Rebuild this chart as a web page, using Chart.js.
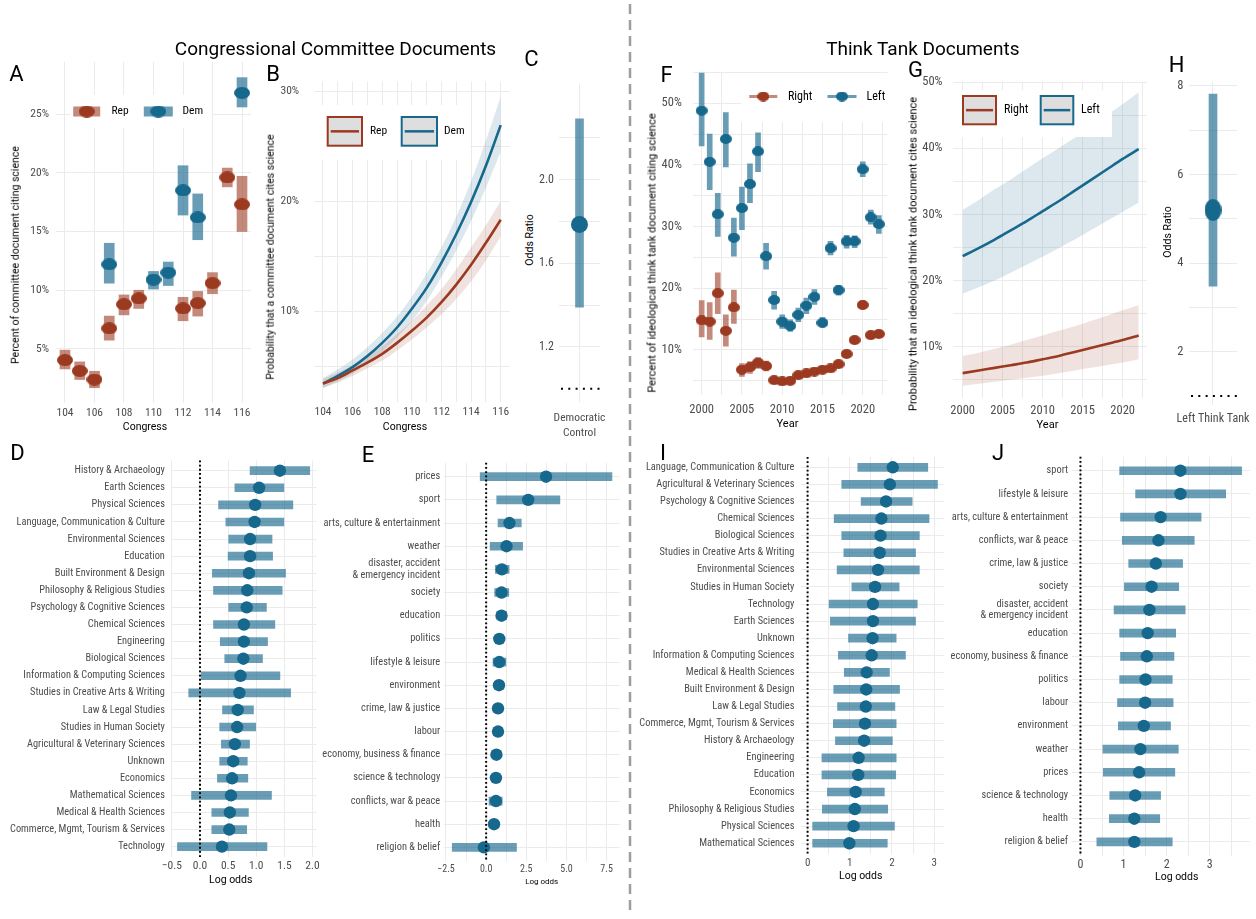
<!DOCTYPE html>
<html>
<head>
<meta charset="utf-8">
<title>Science citations in committee and think tank documents</title>
<script src="https://cdn.jsdelivr.net/npm/chart.js@4.4.1/dist/chart.umd.min.js"></script>
<style>
  body { margin: 0; background: #fff; }
  #fig { position: relative; width: 1256px; height: 919px; overflow: hidden; font-family: Roboto, sans-serif; }
  #fig canvas { position: absolute; }
  #fig svg { position: absolute; left: 0; top: 0; }
  .t { position: absolute; white-space: nowrap; line-height: 1; color: #000; }
</style>
</head>
<body>
<div id="fig">
  <svg width="1256" height="919"><line x1="630" y1="4" x2="630" y2="916" stroke="#9e9e9e" stroke-width="2.5" stroke-dasharray="10 6"/></svg>
</div>
<script>
// ---- data: congressional committees ----
const congress = [104, 105, 106, 107, 108, 109, 110, 111, 112, 113, 114, 115, 116];
const repPct = [4.05, 3.13, 2.4, 6.75, 8.8, 9.3, null, null, 8.45, 8.9, 10.6, 19.6, 17.3];
const repLo  = [3.3, 2.4, 1.7, 5.75, 7.9, 8.45, null, null, 7.4, 7.8, 9.7, 18.8, 15.0];
const repHi  = [4.9, 3.9, 3.1, 7.8, 9.6, 10.0, null, null, 9.4, 9.9, 11.5, 20.4, 19.7];
const demPct = [null, null, null, 12.2, null, null, 10.9, 11.5, 18.5, 16.2, null, null, 26.8];
const demLo  = [null, null, null, 10.6, null, null, 10.1, 10.4, 16.4, 14.3, null, null, 25.6];
const demHi  = [null, null, null, 14.0, null, null, 11.6, 12.4, 20.6, 18.2, null, null, 28.1];

const bRep   = [3.4, 3.9, 4.6, 5.3, 6.1, 7.1, 8.2, 9.4, 10.8, 12.4, 14.2, 16.2, 18.3];
const bRepLo = [3.0, 3.5, 4.1, 4.8, 5.5, 6.4, 7.4, 8.5, 9.7, 11.1, 12.7, 14.6, 16.8];
const bRepHi = [3.8, 4.4, 5.1, 5.9, 6.8, 7.9, 9.1, 10.5, 12.0, 13.8, 15.8, 17.8, 20.0];
const bDem   = [3.4, 4.1, 4.9, 5.9, 7.1, 8.5, 10.2, 12.1, 14.4, 17.0, 19.9, 23.2, 26.9];
const bDemLo = [3.0, 3.6, 4.3, 5.2, 6.3, 7.6, 9.1, 10.9, 13.1, 15.5, 18.2, 21.2, 24.5];
const bDemHi = [3.9, 4.7, 5.6, 6.7, 8.0, 9.5, 11.3, 13.4, 15.8, 18.6, 21.8, 25.5, 29.5];

const cLabel = ['Democratic', 'Control'];
const cOdds = [1.785], cLo = [1.39], cHi = [2.29];

// ---- data: think tanks ----
const years = [2000, 2001, 2002, 2003, 2004, 2005, 2006, 2007, 2008, 2009, 2010, 2011,
               2012, 2013, 2014, 2015, 2016, 2017, 2018, 2019, 2020, 2021, 2022];
const leftPct = [48.8, 40.5, 32.0, 44.2, 28.2, 33.0, 36.9, 42.2, 25.2, 18.1, 14.6, 13.9,
                 15.7, 17.2, 18.6, 14.4, 26.5, 19.7, 27.6, 27.6, 39.3, 31.5, 30.4];
const leftLo  = [43.1, 36.0, 28.4, 39.7, 25.2, 29.5, 33.9, 38.9, 23.1, 16.6, 13.5, 13.0,
                 14.6, 15.9, 17.4, 13.7, 25.4, 18.9, 26.5, 26.6, 38.1, 30.4, 28.9];
const leftHi  = [54.9, 45.0, 35.4, 48.5, 31.4, 36.4, 40.2, 45.2, 27.3, 19.5, 15.7, 14.9,
                 16.8, 18.4, 19.8, 15.3, 27.6, 20.5, 28.6, 28.5, 40.5, 32.7, 31.8];
const rightPct = [14.8, 14.6, 19.2, 13.1, 16.9, 6.8, 7.2, 7.95, 7.4, 5.1, 4.9, 5.0,
                  5.9, 6.2, 6.5, 6.8, 7.0, 7.7, 9.35, 11.6, 17.3, 12.4, 12.6];
const rightLo  = [12.1, 11.7, 15.9, 10.6, 14.3, 5.7, 6.2, 7.0, 6.6, 4.6, 4.4, 4.5,
                  5.4, 5.7, 6.0, 6.3, 6.5, 7.2, 8.8, 11.0, 16.6, 11.8, 12.0];
const rightHi  = [18.0, 17.7, 22.5, 15.7, 19.7, 7.8, 8.1, 8.8, 8.2, 5.6, 5.4, 5.5,
                  6.4, 6.7, 7.0, 7.3, 7.5, 8.2, 9.9, 12.2, 18.0, 13.0, 13.2];

const gYears = [2000, 2002, 2004, 2006, 2008, 2010, 2012, 2014, 2016, 2018, 2020, 2022];
const gLeft    = [23.7, 24.9, 26.2, 27.6, 29.0, 30.5, 32.0, 33.6, 35.2, 36.8, 38.4, 39.9];
const gLeftLo  = [18.0, 19.0, 20.0, 21.2, 22.4, 23.6, 24.9, 26.2, 27.6, 29.0, 30.4, 31.8];
const gLeftHi  = [30.7, 32.2, 33.8, 35.3, 36.9, 38.5, 40.0, 41.6, 43.3, 45.0, 46.7, 48.5];
const gRight   = [6.0, 6.4, 6.8, 7.2, 7.6, 8.1, 8.6, 9.2, 9.8, 10.4, 11.0, 11.7];
const gRightLo = [4.1, 4.4, 4.7, 5.0, 5.3, 5.6, 6.0, 6.4, 6.8, 7.2, 7.6, 8.1];
const gRightHi = [8.6, 9.1, 9.7, 10.3, 11.0, 11.7, 12.4, 13.1, 13.9, 14.7, 15.5, 16.3];

const hLabel = 'Left Think Tank';
const hOdds = [5.2], hLo = [3.48], hHi = [7.82];

// ---- data: log odds by field / topic ----
const dFields = ['History & Archaeology', 'Earth Sciences', 'Physical Sciences', 'Language, Communication & Culture',
  'Environmental Sciences', 'Education', 'Built Environment & Design', 'Philosophy & Religious Studies',
  'Psychology & Cognitive Sciences', 'Chemical Sciences', 'Engineering', 'Biological Sciences',
  'Information & Computing Sciences', 'Studies in Creative Arts & Writing', 'Law & Legal Studies',
  'Studies in Human Society', 'Agricultural & Veterinary Sciences', 'Unknown', 'Economics',
  'Mathematical Sciences', 'Medical & Health Sciences', 'Commerce, Mgmt, Tourism & Services', 'Technology'];
const dEst = [1.42, 1.05, 0.98, 0.97, 0.89, 0.89, 0.87, 0.84, 0.83, 0.78, 0.78, 0.77, 0.72, 0.70, 0.67, 0.66, 0.62, 0.59, 0.57, 0.55, 0.53, 0.52, 0.39];
const dLo  = [0.89, 0.62, 0.33, 0.46, 0.51, 0.50, 0.22, 0.24, 0.51, 0.24, 0.36, 0.44, 0.02, -0.20, 0.40, 0.35, 0.38, 0.35, 0.31, -0.15, 0.21, 0.21, -0.40];
const dHi  = [1.95, 1.49, 1.65, 1.49, 1.28, 1.29, 1.52, 1.46, 1.18, 1.33, 1.20, 1.11, 1.42, 1.61, 0.95, 0.99, 0.88, 0.84, 0.85, 1.27, 0.86, 0.83, 1.19];

const eTopics = ['prices', 'sport', 'arts, culture & entertainment', 'weather',
  ['disaster, accident', '& emergency incident'], 'society', 'education', 'politics', 'lifestyle & leisure',
  'environment', 'crime, law & justice', 'labour', 'economy, business & finance', 'science & technology',
  'conflicts, war & peace', 'health', 'religion & belief'];
const eEst = [3.73, 2.62, 1.45, 1.27, 0.98, 0.96, 0.96, 0.82, 0.82, 0.80, 0.74, 0.74, 0.64, 0.61, 0.61, 0.49, -0.14];
const eLo  = [-0.37, 0.66, 0.74, 0.25, 0.57, 0.53, 0.68, 0.57, 0.43, 0.51, 0.49, 0.45, 0.39, 0.37, 0.18, 0.25, -2.11];
const eHi  = [7.83, 4.59, 2.19, 2.27, 1.43, 1.41, 1.27, 1.09, 1.23, 1.09, 1.00, 1.00, 0.88, 0.86, 1.00, 0.74, 1.89];

const iFields = ['Language, Communication & Culture', 'Agricultural & Veterinary Sciences', 'Psychology & Cognitive Sciences',
  'Chemical Sciences', 'Biological Sciences', 'Studies in Creative Arts & Writing', 'Environmental Sciences',
  'Studies in Human Society', 'Technology', 'Earth Sciences', 'Unknown', 'Information & Computing Sciences',
  'Medical & Health Sciences', 'Built Environment & Design', 'Law & Legal Studies', 'Commerce, Mgmt, Tourism & Services',
  'History & Archaeology', 'Engineering', 'Education', 'Economics', 'Philosophy & Religious Studies',
  'Physical Sciences', 'Mathematical Sciences'];
const iEst = [2.02, 1.95, 1.86, 1.75, 1.73, 1.71, 1.67, 1.60, 1.55, 1.55, 1.54, 1.52, 1.40, 1.39, 1.38, 1.36, 1.34, 1.21, 1.20, 1.14, 1.12, 1.09, 0.99];
const iLo  = [1.19, 0.81, 1.27, 0.63, 0.81, 0.86, 0.70, 1.05, 0.51, 0.54, 0.97, 0.73, 0.87, 0.62, 0.71, 0.61, 0.66, 0.34, 0.34, 0.47, 0.35, 0.12, 0.12];
const iHi  = [2.85, 3.08, 2.48, 2.88, 2.65, 2.56, 2.65, 2.17, 2.60, 2.56, 2.10, 2.32, 1.94, 2.18, 2.07, 2.10, 2.01, 2.10, 2.09, 1.82, 1.90, 2.06, 1.89];

const jTopics = ['sport', 'lifestyle & leisure', 'arts, culture & entertainment', 'conflicts, war & peace',
  'crime, law & justice', 'society', ['disaster, accident', '& emergency incident'], 'education',
  'economy, business & finance', 'politics', 'labour', 'environment', 'weather', 'prices',
  'science & technology', 'health', 'religion & belief'];
const jEst = [2.32, 2.32, 1.86, 1.81, 1.75, 1.65, 1.60, 1.56, 1.54, 1.51, 1.50, 1.47, 1.39, 1.36, 1.27, 1.25, 1.25];
const jLo  = [0.91, 1.28, 0.93, 0.97, 1.12, 1.02, 0.78, 0.91, 0.93, 0.91, 0.86, 0.88, 0.52, 0.53, 0.68, 0.67, 0.38];
const jHi  = [3.74, 3.37, 2.80, 2.64, 2.37, 2.28, 2.43, 2.21, 2.17, 2.13, 2.15, 2.09, 2.27, 2.19, 1.86, 1.84, 2.13];

// ---- styling ----
const RED = '#9b3a21', RED_L = 'rgba(155,58,33,0.6)', RED_BAND = 'rgba(155,58,33,0.15)';
const BLUE = '#17688d', BLUE_L = 'rgba(23,104,141,0.65)', BLUE_BAND = 'rgba(23,104,141,0.15)';
const GRID = '#ebebeb', TICK = '#4d4d4d';
const NARROW = "'Liberation Sans Narrow', 'Roboto Condensed', 'DejaVu Sans Condensed', sans-serif";
const fig = document.getElementById('fig');

// font size that makes a label as wide as it is in the source figure
function fitSize(str, width) {
  const g = document.createElement('canvas').getContext('2d');
  g.font = '20px ' + NARROW;
  return 20 * width / g.measureText(str).width;
}

function ellipse(w, h, color) {
  const c = document.createElement('canvas');
  c.width = w; c.height = h;
  const g = c.getContext('2d');
  g.fillStyle = color;
  g.beginPath();
  g.ellipse(w / 2, h / 2, w / 2, h / 2, 0, 0, Math.PI * 2);
  g.fill();
  return c;
}

const xy = (xs, ys) => xs.map((x, i) => ({ x: x, y: ys[i] })).filter(p => p.y != null);
const span = (xs, lo, hi) => xs.map((x, i) => ({ x: x, y: [lo[i], hi[i]] })).filter(p => p.y[0] != null);
const fmt1 = v => (v < 0 ? '\u2212' : '') + Math.abs(v).toFixed(1);

function axis(o) {
  return {
    type: 'linear', min: o.min, max: o.max, reverse: !!o.reverse, offset: false,
    grid: { color: GRID, lineWidth: 1, drawTicks: false, offset: false },
    border: { display: false },
    ticks: { padding: o.pad, color: TICK, autoSkip: false, maxRotation: 0, minRotation: 0,
             font: { family: NARROW, size: o.size || 11.5, lineHeight: o.lh || 1.2 }, callback: o.label },
    afterBuildTicks: s => { s.ticks = o.ticks.map(v => ({ value: v })); }
  };
}

function fixSize(s, size) {
  s.afterFit = sc => {
    if (sc.isHorizontal()) sc.height = size; else sc.width = size;
    sc.paddingLeft = sc.paddingRight = sc.paddingTop = sc.paddingBottom = 0;
  };
}

function refPlugin(ref) {
  return {
    id: 'refLine',
    afterDatasetsDraw(chart) {
      if (!ref) return;
      const { ctx, chartArea: a, scales } = chart;
      ctx.save();
      ctx.strokeStyle = '#000';
      ctx.lineWidth = 2;
      ctx.setLineDash(ref.dash);
      ctx.beginPath();
      if (ref.axis === 'x') {
        const p = scales.x.getPixelForValue(ref.value);
        ctx.moveTo(p, a.top); ctx.lineTo(p, a.bottom);
      } else {
        const p = scales.y.getPixelForValue(ref.value);
        ctx.moveTo(a.left + 2, p); ctx.lineTo(a.right, p);
      }
      ctx.stroke();
      ctx.restore();
    }
  };
}

function keysPlugin(k, ox, oy) {
  return {
    id: 'keys',
    afterDatasetsDraw(chart) {
      if (!k) return;
      const g = chart.ctx;
      g.save();
      g.translate(-ox, -oy);
      g.fillStyle = '#fff';
      g.fillRect(k.box[0], k.box[1], k.box[2] - k.box[0], k.box[3] - k.box[1]);
      k.items.forEach(it => {
        if (it.img) {
          g.fillStyle = it.light;
          g.fillRect(it.x - it.w / 2, it.y - it.t / 2, it.w, it.t);
          g.drawImage(it.img, it.x - it.img.width / 2, it.y - it.img.height / 2);
        } else {
          const ym = (it.y0 + it.y1) / 2;
          g.fillStyle = '#dedede';
          g.fillRect(it.x0, it.y0, it.x1 - it.x0, it.y1 - it.y0);
          g.strokeStyle = it.color;
          g.lineWidth = 2;
          g.strokeRect(it.x0, it.y0, it.x1 - it.x0, it.y1 - it.y0);
          g.lineWidth = 2.5;
          g.beginPath(); g.moveTo(it.x0 + 3, ym); g.lineTo(it.x1 - 3, ym); g.stroke();
        }
        g.fillStyle = '#000';
        g.font = k.font;
        g.textBaseline = 'middle';
        g.fillText(it.label, it.tx, it.ty);
      });
      g.restore();
    }
  };
}

// rect = canvas box on the page, area = wanted plot area on the page
function panel(rect, area, config, extra = {}) {
  const c = document.createElement('canvas');
  c.width = rect.w; c.height = rect.h;
  c.style.left = rect.x + 'px'; c.style.top = rect.y + 'px';
  fig.appendChild(c);
  const o = config.options;
  Object.assign(o, { responsive: false, animation: false, events: [], devicePixelRatio: 1 });
  o.layout = { padding: { left: 0, top: area.t - rect.y, right: rect.x + rect.w - area.r, bottom: 0 } };
  fixSize(o.scales.x, rect.y + rect.h - area.b);
  fixSize(o.scales.y, area.l - rect.x);
  o.plugins = Object.assign({ legend: { display: false }, tooltip: { enabled: false } }, o.plugins || {});
  config.plugins = [refPlugin(extra.ref), keysPlugin(extra.keys, rect.x, rect.y)];
  return new Chart(c, config);
}

function text(str, x, y, size, opt = {}) {
  const d = document.createElement('div');
  d.className = 't';
  d.textContent = str;
  d.style.left = x + 'px';
  d.style.top = y + 'px';
  d.style.fontSize = size + 'px';
  if (opt.family) d.style.fontFamily = opt.family;
  d.style.transform = 'translate(-50%,-50%)' + (opt.rotate ? ' rotate(-90deg)' : '');
  fig.appendChild(d);
}

function band(data, color) {
  return { data: data, borderColor: 'transparent', borderWidth: 0, pointRadius: 0, backgroundColor: color, fill: false };
}
function curve(data, color) {
  return { data: data, borderColor: color, borderWidth: 2.6, pointRadius: 0, fill: false, order: 0 };
}
function errBars(data, color, w, order) {
  return { type: 'bar', data: data, backgroundColor: color, barThickness: w, grouped: false, order: order };
}

// ---- A ----
const ptRepA = ellipse(16, 12, RED), ptDemA = ellipse(16, 12, BLUE);
panel({ x: 20, y: 55, w: 236, h: 380 }, { l: 56, t: 62, r: 251, b: 403 }, {
  type: 'bar',
  data: { datasets: [
    { type: 'scatter', data: xy(congress, demPct), pointStyle: ptDemA, order: 0 },
    { type: 'scatter', data: xy(congress, repPct), pointStyle: ptRepA, order: 1 },
    errBars(span(congress, demLo, demHi), BLUE_L, 10, 2),
    errBars(span(congress, repLo, repHi), RED_L, 10, 3)
  ]},
  options: { scales: {
    x: axis({ min: 103.39, max: 116.61, ticks: [104, 106, 108, 110, 112, 114, 116], label: v => v, pad: 3 }),
    y: axis({ min: 0.40, max: 29.43, ticks: [5, 10, 15, 20, 25], label: v => v + '%', pad: 7 })
  }}
}, { keys: { box: [70, 95, 212, 128], font: '11.5px ' + NARROW, items: [
  { img: ptRepA, light: RED_L, x: 86.7, y: 111.5, w: 27, t: 10, label: 'Rep', tx: 111.5, ty: 111.5 },
  { img: ptDemA, light: BLUE_L, x: 158.3, y: 111.5, w: 29, t: 10, label: 'Dem', tx: 182.5, ty: 111.5 }
]}});

// ---- B ----
panel({ x: 276, y: 75, w: 239, h: 360 }, { l: 314.1, t: 81.65, r: 509.6, b: 401.75 }, {
  type: 'line',
  data: { datasets: [
    band(xy(congress, bRepLo), RED_BAND),
    Object.assign(band(xy(congress, bRepHi), RED_BAND), { fill: '-1' }),
    band(xy(congress, bDemLo), BLUE_BAND),
    Object.assign(band(xy(congress, bDemHi), BLUE_BAND), { fill: '-1' }),
    curve(xy(congress, bRep), RED),
    curve(xy(congress, bDem), BLUE)
  ]},
  options: {
    elements: { line: { cubicInterpolationMode: 'monotone' } },
    plugins: { filler: { drawTime: 'beforeDatasetsDraw' } },
    scales: {
      x: axis({ min: 103.4, max: 116.6, ticks: congress, label: v => (v % 2 === 0 ? v : ''), pad: 3 }),
      y: axis({ min: 1.75, max: 30.85, ticks: [5, 10, 15, 20, 25, 30], label: v => (v % 10 === 0 ? v + '%' : ''), pad: 15 })
    }
  }
}, { keys: { box: [314, 105, 470, 160], font: '11.5px ' + NARROW, items: [
  { color: RED, x0: 327.7, x1: 362, y0: 117, y1: 145.7, label: 'Rep', tx: 370, ty: 131 },
  { color: BLUE, x0: 401.7, x1: 437, y0: 117, y1: 145.7, label: 'Dem', tx: 444, ty: 131 }
]}});

// ---- C ----
panel({ x: 536, y: 75, w: 89, h: 370 }, { l: 559, t: 81.7, r: 600, b: 401.6 }, {
  type: 'bar',
  data: { datasets: [
    { type: 'scatter', data: xy([1], cOdds), pointRadius: 8.5, backgroundColor: BLUE, borderWidth: 0, order: 0 },
    errBars(span([1], cLo, cHi), BLUE_L, 8, 1)
  ]},
  options: { scales: {
    x: axis({ min: 0.4, max: 1.6, ticks: [1], label: () => cLabel, pad: 9, lh: 1.3 }),
    y: axis({ min: 0.939, max: 2.459, ticks: [1.2, 1.4, 1.6, 1.8, 2.0, 2.2],
              label: v => ({ 1.2: '1.2', 1.6: '1.6', 2: '2.0' })[v] || '', pad: 5, size: 12 })
  }}
}, { ref: { axis: 'y', value: 1, dash: [2, 5.3] } });

// ---- F ----
const ptRightF = ellipse(12, 10, RED), ptLeftF = ellipse(12, 10, BLUE);
const fTicks = [2000, 2002.5, 2005, 2007.5, 2010, 2012.5, 2015, 2017.5, 2020, 2022.5];
panel({ x: 655, y: 65, w: 238, h: 365 }, { l: 692.8, t: 71.7, r: 887.7, b: 395 }, {
  type: 'bar',
  data: { datasets: [
    { type: 'scatter', data: xy(years, leftPct), pointStyle: ptLeftF, order: 0 },
    { type: 'scatter', data: xy(years, rightPct), pointStyle: ptRightF, order: 1 },
    errBars(span(years, leftLo, leftHi), BLUE_L, 5, 2),
    errBars(span(years, rightLo, rightHi), RED_L, 5, 3)
  ]},
  options: { scales: {
    x: axis({ min: 1998.9, max: 2023.1, ticks: fTicks, label: v => (v % 5 === 0 ? v : ''), pad: 7, size: 12.5 }),
    y: axis({ min: 2.7, max: 55.12, ticks: [5, 10, 15, 20, 25, 30, 35, 40, 45, 50, 55],
              label: v => (v % 10 === 0 ? v + '%' : ''), pad: 11, size: 12.5 })
  }}
}, { keys: { box: [741, 73, 888, 122], font: '12px ' + NARROW, items: [
  { img: ptRightF, light: RED_L, x: 763.3, y: 96.5, w: 28, t: 3, label: 'Right', tx: 788, ty: 96.5 },
  { img: ptLeftF, light: BLUE_L, x: 842, y: 96.5, w: 29, t: 3, label: 'Left', tx: 866.5, ty: 96.5 }
]}});

// ---- G ----
panel({ x: 918, y: 75, w: 232, h: 355 }, { l: 953.1, t: 81.6, r: 1146.7, b: 398 }, {
  type: 'line',
  data: { datasets: [
    band(xy(gYears, gRightLo), RED_BAND),
    Object.assign(band(xy(gYears, gRightHi), RED_BAND), { fill: '-1' }),
    band(xy(gYears, gLeftLo), BLUE_BAND),
    Object.assign(band(xy(gYears, gLeftHi), BLUE_BAND), { fill: '-1' }),
    curve(xy(gYears, gRight), RED),
    curve(xy(gYears, gLeft), BLUE)
  ]},
  options: {
    elements: { line: { cubicInterpolationMode: 'monotone' } },
    plugins: { filler: { drawTime: 'beforeDatasetsDraw' } },
    scales: {
      x: axis({ min: 1998.8, max: 2023, ticks: fTicks, label: v => (v % 5 === 0 ? v : ''), pad: 5, size: 12.5 }),
      y: axis({ min: 2.24, max: 50.1, ticks: [5, 10, 15, 20, 25, 30, 35, 40, 45, 50],
                label: v => (v % 10 === 0 ? v + '%' : ''), pad: 10.6, size: 12.5 })
    }
  }
}, { keys: { box: [950, 90, 1112, 137], font: '12px ' + NARROW, items: [
  { color: RED, x0: 963, x1: 996, y0: 96, y1: 124.3, label: 'Right', tx: 1004, ty: 110 },
  { color: BLUE, x0: 1040.7, x1: 1073.3, y0: 96, y1: 124.3, label: 'Left', tx: 1081, ty: 110 }
]}});

// ---- H ----
const ptH = ellipse(17, 22, BLUE);
panel({ x: 1170, y: 75, w: 86, h: 355 }, { l: 1189, t: 81.7, r: 1237, b: 405 }, {
  type: 'bar',
  data: { datasets: [
    { type: 'scatter', data: xy([1], hOdds), pointStyle: ptH, order: 0 },
    errBars(span([1], hLo, hHi), BLUE_L, 8, 1)
  ]},
  options: { scales: {
    x: axis({ min: 0.4, max: 1.6, ticks: [1], label: () => hLabel, pad: 6.7, size: 12 }),
    y: axis({ min: 0.797, max: 8.097, ticks: [2, 3, 4, 5, 6, 7, 8], label: v => (v % 2 === 0 ? v : ''), pad: 5.7, size: 12.5 })
  }}
}, { ref: { axis: 'y', value: 1, dash: [2, 5.3] } });

// ---- forest panels D, E, I, J ----
function forest(rect, area, cats, est, lo, hi, xo, yo) {
  const idx = cats.map((_, i) => i);
  return panel(rect, area, {
    type: 'bar',
    data: { datasets: [
      { type: 'scatter', data: xy(est, idx), pointRadius: 6.2, backgroundColor: BLUE, borderWidth: 0, order: 0 },
      { type: 'bar', indexAxis: 'y', data: idx.map(i => ({ x: [lo[i], hi[i]], y: i })),
        backgroundColor: BLUE_L, barThickness: 8, grouped: false, order: 1 }
    ]},
    options: { scales: {
      x: axis(xo),
      y: axis(Object.assign({ min: -0.6, max: cats.length - 0.4, reverse: true, ticks: idx,
                              label: v => cats[v], lh: 1.1 }, yo))
    }}
  }, { ref: { axis: 'x', value: 0, dash: [1.8, 2.4] } });
}

forest({ x: 0, y: 450, w: 325, h: 430 }, { l: 171.85, t: 460.45, r: 316.5, b: 856.9 }, dFields, dEst, dLo, dHi,
  { min: -0.5, max: 2.07, ticks: [-0.5, 0, 0.5, 1, 1.5, 2], label: fmt1, pad: 2.8, size: 11.5 },
  { pad: 7, size: fitSize('Commerce, Mgmt, Tourism & Services', 155) });

forest({ x: 320, y: 450, w: 306, h: 430 }, { l: 444.2, t: 462.8, r: 622.1, b: 861.3 }, eTopics, eEst, eLo, eHi,
  { min: -2.61, max: 8.32, ticks: [-2.5, -1.25, 0, 1.25, 2.5, 3.75, 5, 6.25, 7.5],
    label: v => (v % 2.5 === 0 ? fmt1(v) : ''), pad: 2, size: 10 },
  { pad: 4, size: fitSize('economy, business & finance', 118) });

forest({ x: 636, y: 450, w: 314, h: 430 }, { l: 801.1, t: 457.05, r: 945.5, b: 853.5 }, iFields, iEst, iLo, iHi,
  { min: -0.154, max: 3.23, ticks: [0, 0.5, 1, 1.5, 2, 2.5, 3], label: v => (v % 1 === 0 ? v : ''), pad: 3, size: 11 },
  { pad: 6.7, size: fitSize('Information & Computing Sciences', 142) });

forest({ x: 945, y: 450, w: 311, h: 430 }, { l: 1072.4, t: 456.8, r: 1255.2, b: 855.8 }, jTopics, jEst, jLo, jHi,
  { min: -0.187, max: 3.93, ticks: [0, 0.5, 1, 1.5, 2, 2.5, 3, 3.5], label: v => (v % 1 === 0 ? v : ''), pad: 1.6, size: 12 },
  { pad: 4.3, size: fitSize('economy, business & finance', 117.7) });

// ---- titles, panel letters, axis titles ----
text('Congressional Committee Documents', 335.5, 47.5, 19);
text('Think Tank Documents', 922.8, 47.5, 19);
[['A', 16.5, 73.5], ['B', 273, 73.5], ['C', 531.5, 58.5], ['D', 17.5, 452.5], ['E', 368, 454.5],
 ['F', 666.5, 74.5], ['G', 915.5, 69.5], ['H', 1176.5, 65], ['I', 663, 452.5], ['J', 998, 452.5]]
  .forEach(l => text(l[0], l[1], l[2], 22));

text('Percent of committee document citing science', 15.5, 255, 10.5, { rotate: true });
text('Congress', 145, 426.7, 10.5);
text('Probability that a committee document cites science', 271, 257, 10.5, { rotate: true });
text('Congress', 405, 426.7, 10.5);
text('Odds Ratio', 530, 240, 10.5, { rotate: true });
text('Percent of ideological think tank document citing science', 651.7, 253.3, 11, { rotate: true });
text('Year', 787.5, 423.3, 11);
text('Probability that an ideological think tank document cites science', 912.7, 254, 11, { rotate: true });
text('Year', 1047.5, 424, 11);
text('Odds Ratio', 1168.3, 231.7, 10.5, { rotate: true });
text('Log odds', 230.7, 880, 10.5);
text('Log odds', 541.7, 881.7, 8);
text('Log odds', 860.7, 876, 10.5);
text('Log odds', 1176.7, 876.7, 10.5);
</script>
</body>
</html>
